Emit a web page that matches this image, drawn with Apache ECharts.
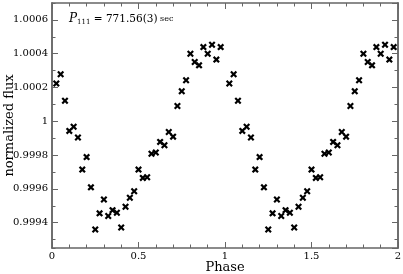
<!DOCTYPE html>
<html><head><meta charset="utf-8">
<script src="https://cdn.jsdelivr.net/npm/echarts@6/dist/echarts.min.js"></script>
<style>html,body{margin:0;padding:0;background:#fff}#c{width:403px;height:274px}</style>
</head><body><div id="c"></div>
<script>
// Phase-folded light curve (one cycle); plotted twice (phase and phase+1)
const phase = [0.025,0.05,0.075,0.1,0.125,0.15,0.175,0.2,0.225,0.25,0.275,0.3,0.325,0.35,0.375,0.4,0.425,0.45,0.475,0.5,
               0.525,0.55,0.575,0.6,0.625,0.65,0.675,0.7,0.725,0.75,0.775,0.8,0.825,0.85,0.875,0.9,0.925,0.95,0.975];
const flux = [1.000224,1.000278,1.000121,0.999943,0.999968,0.999904,0.999714,0.999788,0.999609,0.999359,
              0.999455,0.999537,0.999439,0.999474,0.999459,0.999371,0.999494,0.999547,0.999586,0.999714,
              0.999665,0.999669,0.999808,0.999815,0.999878,0.999858,0.999937,0.999909,1.000090,1.000178,
              1.000243,1.000400,1.000351,1.000331,1.000439,1.000400,1.000453,1.000365,1.000439];
const cycles = [0, 1];
const xTicks = ['0', '0.5', '1', '1.5', '2'];
const yRange = [0.99925, 1.0007];

const FONT = 'DejaVu Serif';
const AX = '#666';
const data = [];
cycles.forEach(c => phase.forEach((p, i) => data.push([p + c, flux[i]])));

const crossPath = 'path://M0,2.2L2.2,0L5,2.8L7.8,0L10,2.2L7.2,5L10,7.8L7.8,10L5,7.2L2.2,10L0,7.8L2.8,5Z';

function yAx(pos, major, showLabel) {
  return {
    type: 'value', position: pos, min: yRange[0], max: yRange[1],
    splitNumber: major ? 7 : 15,
    scale: true,
    axisLine: { show: true, lineStyle: { color: AX, width: 1.5 } },
    axisTick: { show: true, inside: true, length: major ? 6 : 3.5, lineStyle: { color: AX, width: 1 } },
    axisLabel: { show: showLabel, showMinLabel: false, showMaxLabel: false, margin: 4,
      color: '#000', fontFamily: FONT, fontSize: 10,
      formatter: v => String(+v.toFixed(4)) },
    splitLine: { show: false },
    name: showLabel ? 'normalized flux' : '',
    nameLocation: 'middle', nameGap: 36, nameRotate: 90, nameMoveOverlap: false,
    nameTextStyle: { color: '#000', fontFamily: FONT, fontSize: 13 }
  };
}
function xAx(pos, showLabel) {
  return {
    type: 'value', position: pos, min: 0, max: 2, interval: 0.5,
    axisLine: { show: true, lineStyle: { color: AX, width: 1.5 } },
    axisTick: { show: true, inside: true, length: 6, lineStyle: { color: AX, width: 1 } },
    minorTick: { show: true, splitNumber: 5, length: 3.5, lineStyle: { color: AX, width: 1 } },
    axisLabel: { show: showLabel, margin: 3, color: '#000', fontFamily: FONT, fontSize: 10,
      formatter: v => xTicks[Math.round(v / 0.5)] },
    splitLine: { show: false },
    name: showLabel ? 'Phase' : '',
    nameLocation: 'middle', nameGap: 13, nameMoveOverlap: false,
    nameTextStyle: { color: '#000', fontFamily: FONT, fontSize: 13 }
  };
}

const chart = echarts.init(document.getElementById('c'), null, { renderer: 'canvas' });
chart.setOption({
  animation: false,
  backgroundColor: '#fff',
  grid: { left: 52, right: 5, top: 3, bottom: 26, containLabel: false, outerBoundsMode: 'none' },
  title: {
    left: 69, top: 12, padding: 0,
    text: '{p|P}{sub|111}{t| = 771.56(3)}{s| sec}',
    textStyle: {
      fontWeight: 'normal',
      rich: {
        p: { fontFamily: FONT, fontStyle: 'italic', fontWeight: 'normal', fontSize: 12, color: '#000' },
        sub: { fontFamily: FONT, fontWeight: 'normal', fontSize: 7, color: '#000', padding: [7, 0, 0, 0] },
        t: { fontFamily: FONT, fontWeight: 'normal', fontSize: 10.5, color: '#000' },
        s: { fontFamily: FONT, fontWeight: 'normal', fontSize: 8, color: '#000' }
      }
    }
  },
  xAxis: [xAx('bottom', true), xAx('top', false)],
  yAxis: [yAx('left', true, true), yAx('left', false, false), yAx('right', true, false), yAx('right', false, false)],
  series: [{
    type: 'scatter', xAxisIndex: 0, yAxisIndex: 0,
    symbol: crossPath, symbolSize: 7,
    itemStyle: { color: '#000', opacity: 1 },
    data: data
  }]
});
</script></body></html>
